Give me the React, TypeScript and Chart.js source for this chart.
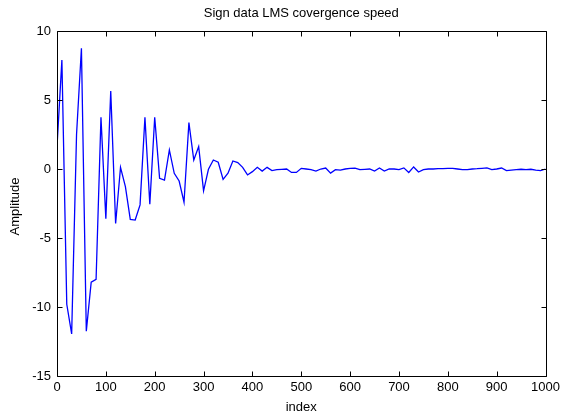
import React, { useEffect, useRef } from "react";
import { Chart, registerables } from "chart.js";

Chart.register(...registerables);

const titleText = "Sign data LMS covergence speed";
const xLabel = "index";
const yLabel = "Amplitude";

const xIndex = [
  0, 10, 20, 30, 40, 50, 60, 70, 80, 90,
  100, 110, 120, 130, 140, 150, 160, 170, 180, 190,
  200, 210, 220, 230, 240, 250, 260, 270, 280, 290,
  300, 310, 320, 330, 340, 350, 360, 370, 380, 390,
  400, 410, 420, 430, 440, 450, 460, 470, 480, 490,
  500, 510, 520, 530, 540, 550, 560, 570, 580, 590,
  600, 610, 620, 630, 640, 650, 660, 670, 680, 690,
  700, 710, 720, 730, 740, 750, 760, 770, 780, 790,
  800, 810, 820, 830, 840, 850, 860, 870, 880, 890,
  900, 910, 920, 930, 940, 950, 960, 970, 980, 990,
  1000,
];

const amplitude = [
  1.6, 7.9, -9.8, -11.95, 2.5, 8.75, -11.75, -8.2, -8.0, 3.75,
  -3.6, 5.65, -3.95, 0.12, -1.28, -3.65, -3.7, -2.6, 3.75, -2.55,
  3.75, -0.68, -0.8, 1.38, -0.31, -0.87, -2.41, 3.36, 0.65, 1.62,
  -1.59, -0.02, 0.65, 0.49, -0.75, -0.31, 0.58, 0.46, 0.12, -0.43,
  -0.19, 0.12, -0.15, 0.12, -0.12, -0.05, -0.02, 0.0, -0.25, -0.25,
  0.05, 0.0, -0.05, -0.15, 0.0, 0.07, -0.3, -0.05, -0.08, 0.0,
  0.05, 0.07, -0.05, -0.02, 0.0, -0.15, 0.07, -0.15, 0.0, 0.0,
  -0.05, 0.08, -0.25, 0.15, -0.22, -0.05, 0.0, 0.0, 0.02, 0.02,
  0.05, 0.05, 0.0, -0.05, -0.05, 0.0, 0.02, 0.05, 0.08, -0.05,
  0.0, 0.07, -0.12, -0.08, -0.05, -0.02, -0.05, -0.02, -0.08, -0.12,
  0.0,
];

const xTicks = [0, 100, 200, 300, 400, 500, 600, 700, 800, 900, 1000];
const yTicks = [-15, -10, -5, 0, 5, 10];

const FONT = "'Liberation Sans', Arial, Helvetica, sans-serif";

const matlabFrame = {
  id: "matlabFrame",
  afterDraw(chart: any) {
    const { ctx, chartArea, scales } = chart;
    const { left, right, top, bottom } = chartArea;
    ctx.save();
    ctx.strokeStyle = "#000";
    ctx.lineWidth = 1;
    const L = Math.round(left) + 0.5;
    const R = Math.round(right) + 0.5;
    const T = Math.round(top) + 0.5;
    const B = Math.round(bottom) + 0.5;
    ctx.beginPath();
    ctx.rect(L, T, R - L, B - T);
    ctx.stroke();
    const tl = 5;
    ctx.beginPath();
    xTicks.forEach((v) => {
      const px = Math.round(scales.x.getPixelForValue(v)) + 0.5;
      ctx.moveTo(px, B);
      ctx.lineTo(px, B - tl);
      ctx.moveTo(px, T);
      ctx.lineTo(px, T + tl);
    });
    yTicks.forEach((v) => {
      const py = Math.round(scales.y.getPixelForValue(v)) + 0.5;
      ctx.moveTo(L, py);
      ctx.lineTo(L + tl, py);
      ctx.moveTo(R, py);
      ctx.lineTo(R - tl, py);
    });
    ctx.stroke();

    ctx.fillStyle = "#000";
    ctx.font = `13px ${FONT}`;
    ctx.textAlign = "center";
    ctx.textBaseline = "middle";
    const cx = (left + right) / 2;
    ctx.fillText(titleText, cx, 13);
    ctx.fillText(xLabel, cx, 407);
    ctx.translate(15, (top + bottom) / 2 + 3);
    ctx.rotate(-Math.PI / 2);
    ctx.fillText(yLabel, 0, 0);
    ctx.restore();
  },
};

export default function App() {
  const canvasRef = useRef<HTMLCanvasElement | null>(null);

  useEffect(() => {
    if (!canvasRef.current) return;
    const chart = new Chart(canvasRef.current, {
      type: "line",
      data: {
        datasets: [
          {
            data: xIndex.map((x, i) => ({ x, y: amplitude[i] })),
            borderColor: "#0000ff",
            borderWidth: 1.3,
            pointRadius: 0,
            tension: 0,
            fill: false,
          },
        ],
      },
      options: {
        responsive: false,
        animation: false,
        layout: { padding: { top: 31, right: 17, left: 0, bottom: 0 } },
        plugins: {
          legend: { display: false },
          title: { display: false },
          tooltip: { enabled: false },
        },
        scales: {
          x: {
            type: "linear",
            min: 0,
            max: 1000,
            afterBuildTicks: (s: any) => {
              s.ticks = xTicks.map((v) => ({ value: v }));
            },
            afterFit: (s: any) => {
              s.height = 41;
            },
            ticks: {
              color: "#000",
              font: { family: FONT, size: 13 },
              padding: 4,
              maxRotation: 0,
              autoSkip: false,
              callback: (v: any) => String(v),
            },
            grid: { display: false, drawTicks: false },
            border: { display: false },
          },
          y: {
            type: "linear",
            min: -15,
            max: 10,
            afterBuildTicks: (s: any) => {
              s.ticks = yTicks.map((v) => ({ value: v }));
            },
            afterFit: (s: any) => {
              s.width = 57;
            },
            ticks: {
              color: "#000",
              font: { family: FONT, size: 13 },
              padding: 6,
              callback: (v: any) => String(v),
            },
            grid: { display: false, drawTicks: false },
            border: { display: false },
          },
        },
      },
      plugins: [matlabFrame],
    });
    return () => chart.destroy();
  }, []);

  return (
    <div style={{ position: "absolute", left: 0, top: 0, width: 564, height: 417, background: "#fff" }}>
      <canvas ref={canvasRef} width={564} height={417} style={{ display: "block" }} />
    </div>
  );
}
